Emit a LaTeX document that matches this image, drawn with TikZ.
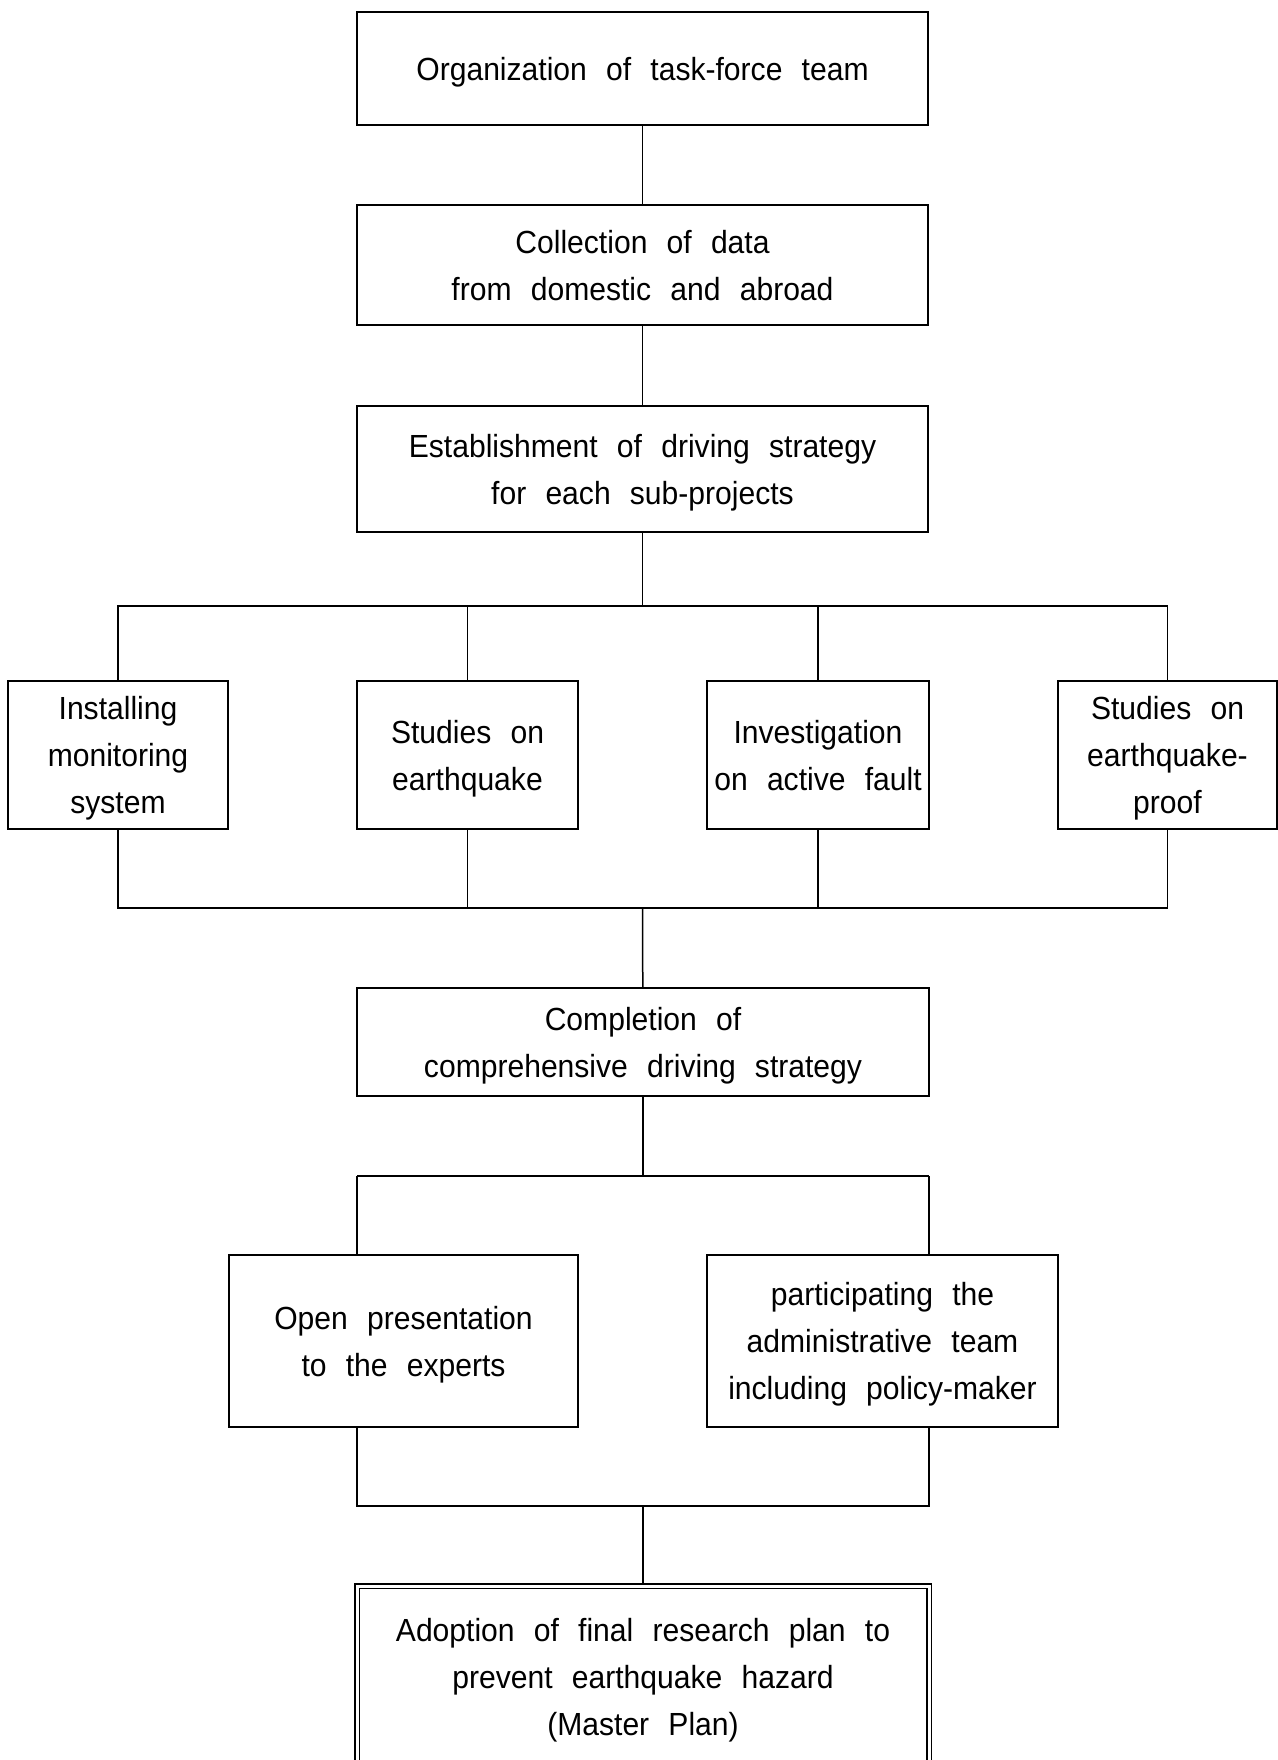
\documentclass[tikz,border=0pt]{standalone}
\usepackage{fontspec}
\setmainfont[FakeStretch=0.94,WordSpace=2.3]{Liberation Sans}
\usepackage{tikz}
\tikzset{every picture/.style={line width=0.75pt}}
\tikzset{
	stepbox/.style={draw, rectangle, align=center, inner sep=0pt, text depth=0pt,
		font=\fontsize{16}{23.5}\selectfont},
	finalbox/.style={stepbox, double, double distance=1.5pt}
}

\begin{document}
\begin{tikzpicture}[x=0.5pt,y=0.5pt,yscale=-1,xscale=1]
	\useasboundingbox (0,0) rectangle (1278,1760);
	
	%Shape: Rectangle [main column]
	\node [stepbox, minimum width=285.5pt, minimum height=56.5pt] (org) at (642.5,68.5) {Organization of task-force team};
	\node [stepbox, minimum width=285.5pt, minimum height=60pt] (collect) at (642.5,265) {Collection of data\\from domestic and abroad};
	\node [stepbox, minimum width=285.5pt, minimum height=63pt] (strategy) at (642.5,469) {Establishment of driving strategy\\for each sub-projects};
	
	%Shape: Rectangle [sub-projects]
	\node [stepbox, minimum width=110pt, minimum height=74pt] (monitor) at (118,755) {Installing\\monitoring\\system};
	\node [stepbox, minimum width=110.5pt, minimum height=74pt] (quake) at (467.5,755) {Studies on\\earthquake};
	\node [stepbox, minimum width=111pt, minimum height=74pt] (fault) at (818,755) {Investigation\\on active fault};
	\node [stepbox, minimum width=109.5pt, minimum height=74pt] (proof) at (1167.5,755) {Studies on\\earthquake-\\proof};
	
	\node [stepbox, minimum width=286pt, minimum height=54pt] (complete) at (643,1042) {Completion of\\comprehensive driving strategy};
	
	\node [stepbox, minimum width=174.5pt, minimum height=86pt] (expert) at (403.5,1341) {Open presentation\\to the experts};
	\node [stepbox, minimum width=175.5pt, minimum height=86pt] (admin) at (882.5,1341) {participating the\\administrative team\\including policy-maker};
	
	%Shape: Double Rectangle
	\node [finalbox, minimum width=286pt, minimum height=91pt] (master) at (643,1677) {Adoption of final research plan to\\prevent earthquake hazard\\(Master Plan)};
	
	% bus points
	\coordinate (topbus) at (642.5,606);
	\coordinate (lowbus) at (642.5,908);
	\coordinate (leftA) at (357,1176);
	\coordinate (rightA) at (929,1176);
	\coordinate (leftB) at (357,1506);
	\coordinate (rightB) at (929,1506);
	
	%Straight Lines
	\draw (org) -- (collect);
	\draw (collect) -- (strategy);
	\draw (strategy) -- (topbus);
	\draw (monitor.north) |- (topbus) -| (proof.north);
	\draw (quake.north) -- (quake.north |- topbus);
	\draw (fault.north) -- (fault.north |- topbus);
	\draw (monitor.south) |- (lowbus) -| (proof.south);
	\draw (quake.south) -- (quake.south |- lowbus);
	\draw (fault.south) -- (fault.south |- lowbus);
	\draw (lowbus) -- (complete);
	
	\draw (complete) -- (complete.south |- leftA);
	\draw (leftA) -- (rightA);
	\draw (leftA) -- (leftA |- expert.north);
	\draw (rightA) -- (rightA |- admin.north);
	\draw (leftB |- expert.south) -- (leftB) -- (rightB) -- (rightB |- admin.south);
	\draw (master.north |- leftB) -- (master);
	
\end{tikzpicture}
\end{document}
